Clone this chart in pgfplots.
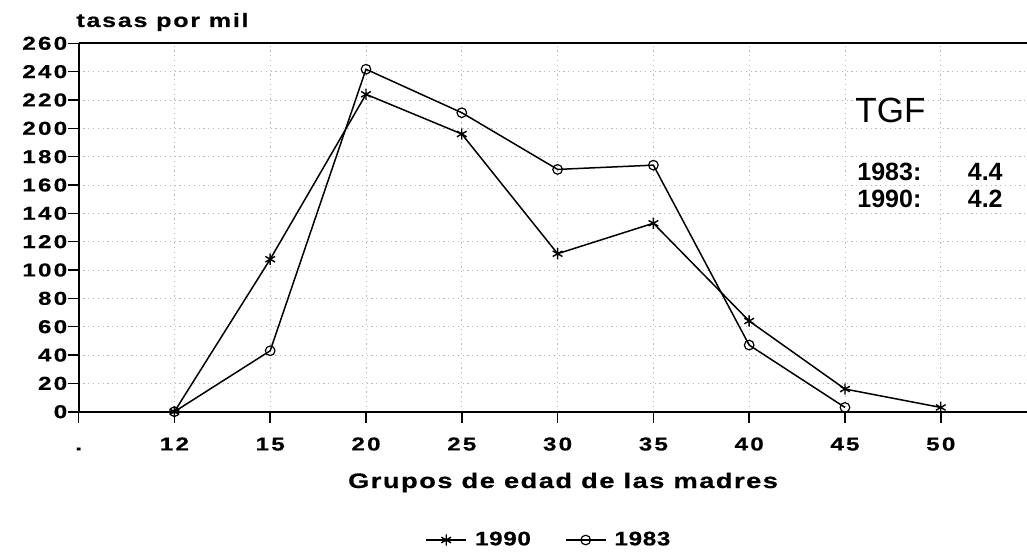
\documentclass[border=0pt]{standalone}
\usepackage{pgfplots}
\pgfplotsset{compat=1.18}
\usepackage{fontspec}
\setmainfont{Liberation Sans}
\newfontfamily\wf{Liberation Sans}[FakeStretch=1.3, LetterSpace=7, FakeBold=0.6]
\newfontfamily\wfb{Liberation Sans}[FakeStretch=1.3, LetterSpace=9, FakeBold=0.6]
\newfontfamily\wfa{Liberation Sans}[FakeStretch=1.3, LetterSpace=12, FakeBold=0.6]
\newfontfamily\wfl{Liberation Sans}[FakeStretch=1.25, LetterSpace=3, FakeBold=0.6]

\pgfplotstableread{
x y
1 0
2 107.6
3 224
4 196
5 111.5
6 133
7 64
8 16
9 3
}\noventa

\pgfplotstableread{
x y
1 0
2 43
3 241.7
4 211
5 171
6 174
7 47
8 3
}\ochentatres

\begin{document}
\begin{tikzpicture}
\useasboundingbox (-39.3pt,-72.15pt) rectangle (474.2pt,205.85pt);
\begin{axis}[
  at={(0pt,0pt)}, anchor=south west,
  scale only axis, width=474.2pt, height=184.2pt,
  xmin=0, xmax=9.9, ymin=0, ymax=260,
  xtick={0,...,9}, xticklabels={., 12, 15, 20, 25, 30, 35, 40, 45, 50},
  ytick={0,20,...,260},
  axis x line=bottom, axis y line=left,
  axis line style={-, line width=1pt},
  tick align=outside, major tick length=5.5pt,
  tick style={black, line width=0.8pt},
  grid=major,
  grid style={gray!55, line width=0.4pt, dash pattern=on 0.6pt off 1.8pt},
  clip=false,
  /pgf/number format/assume math mode=true,
  ticklabel style={font=\wfa\bfseries\fontsize{9.3pt}{10pt}\selectfont},
  yticklabel style={inner sep=0pt, anchor=east},
  xticklabel style={inner sep=0pt, anchor=north, text height=6.66pt, text depth=0pt, yshift=-7pt},
  xlabel={Grupos de edad de las madres},
  xlabel style={at={(rel axis cs:0.5108,0)}, anchor=base, yshift=-38.15pt, inner sep=0pt,
    font=\wf\bfseries\fontsize{10.5pt}{12pt}\selectfont},
  legend style={draw=none, fill=none, at={(0.497,-0.3483)}, anchor=center,
    legend columns=2, font=\wfl\bfseries\fontsize{9.75pt}{11pt}\selectfont,
    /tikz/every even column/.append style={column sep=15pt},
    /tikz/every odd column/.append style={column sep=2pt}},
  legend image code/.code={\draw[mark repeat=2, mark phase=2, #1] plot coordinates {(0pt,0pt) (10pt,0pt) (20pt,0pt)};},
]
\draw[line width=1pt] (rel axis cs:0,1) -- (rel axis cs:1,1);
\addplot[black, line width=0.75pt, mark=asterisk, mark size=2.8pt, mark options={line width=0.7pt}] table[x=x, y=y] {\noventa};
\addlegendentry{1990}
\addplot[black, line width=0.75pt, mark=o, mark size=2.4pt, mark options={line width=0.6pt, fill=white}] table[x=x, y=y] {\ochentatres};
\addlegendentry{1983}
\end{axis}
\node[anchor=base west, inner sep=0pt, font=\wfb\bfseries\fontsize{9.65pt}{11pt}\selectfont] at (-1.3pt,192.35pt) {tasas por mil};
\node[anchor=base west, inner sep=0pt, font=\fontsize{17.5pt}{20pt}\selectfont] at (388.2pt,144.35pt) {TGF};
\node[anchor=base west, inner sep=0pt, font=\bfseries\fontsize{12.5pt}{14pt}\selectfont] at (389.2pt,115.35pt) {1983:};
\node[anchor=base east, inner sep=0pt, font=\bfseries\fontsize{12.5pt}{14pt}\selectfont] at (462.2pt,115.35pt) {4.4};
\node[anchor=base west, inner sep=0pt, font=\bfseries\fontsize{12.5pt}{14pt}\selectfont] at (389.2pt,101.85pt) {1990:};
\node[anchor=base east, inner sep=0pt, font=\bfseries\fontsize{12.5pt}{14pt}\selectfont] at (462.2pt,101.85pt) {4.2};
\end{tikzpicture}
\end{document}
